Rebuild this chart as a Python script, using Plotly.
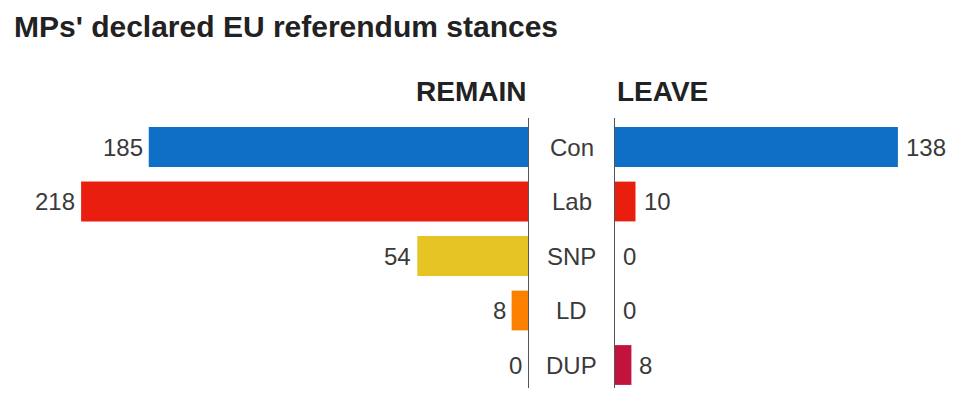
import plotly.graph_objects as go

parties = ["Con", "Lab", "SNP", "LD", "DUP"]
remain = [185, 218, 54, 8, 0]
leave = [138, 10, 0, 0, 8]
colors = ["#0f6fc6", "#e91e0e", "#e6c425", "#fb8000", "#c2123e"]

W, H = 978, 397
OFF = 8  # page body margin offset
idx = list(range(len(parties)))
FONT = "Liberation Sans, Arial, sans-serif"
VAL_FONT = dict(size=24, color="#3a3a3a", family=FONT)

fig = go.Figure()
fig.add_trace(go.Bar(
    x=remain, y=idx, orientation="h", marker=dict(color=colors, line=dict(width=0)),
    width=0.73, xaxis="x", yaxis="y", hoverinfo="skip"))
fig.add_trace(go.Bar(
    x=leave, y=idx, orientation="h", marker=dict(color=colors, line=dict(width=0)),
    width=0.73, xaxis="x2", yaxis="y2", hoverinfo="skip"))

px_per = 2.05
left_edge, right_edge = 528 - OFF, 615 - OFF
ytop, ybot = 118 - OFF, 388 - OFF
pitch, c0 = 54.5, 147 - OFF
yr = [(ybot - c0) / pitch, (ytop - c0) / pitch]
ydom = [1 - ybot / H, 1 - ytop / H]

fig.update_layout(
    width=W, height=H, margin=dict(l=0, r=0, t=0, b=0),
    paper_bgcolor="white", plot_bgcolor="white", showlegend=False,
    font=dict(family=FONT, color="#3a3a3a"),
    xaxis=dict(domain=[0, left_edge / W], range=[left_edge / px_per, 0],
               showgrid=False, zeroline=False, showticklabels=False, showline=False),
    xaxis2=dict(domain=[right_edge / W, 1], range=[0, (W - right_edge) / px_per],
                showgrid=False, zeroline=False, showticklabels=False, showline=False),
    yaxis=dict(domain=ydom, range=yr, anchor="x", side="right", showline=True,
               linecolor="#555555", linewidth=1, showgrid=False, zeroline=False,
               showticklabels=False, ticks=""),
    yaxis2=dict(domain=ydom, range=yr, anchor="x2", side="left", showline=True,
                linecolor="#555555", linewidth=1, showgrid=False, zeroline=False,
                showticklabels=False, ticks=""),
    bargap=0.27,
)

annotations = [
    dict(text="<b>MPs' declared EU referendum stances</b>", x=(12 - OFF) / W, y=1 - 19 / H,
         xref="paper", yref="paper", xanchor="left", yanchor="middle", showarrow=False,
         font=dict(size=30, color="#222222")),
    dict(text="<b>REMAIN</b>", x=left_edge / W, y=1 - (91 - OFF) / H, xref="paper", yref="paper",
         xanchor="right", yanchor="middle", showarrow=False, font=dict(size=28, color="#222222")),
    dict(text="<b>LEAVE</b>", x=right_edge / W, y=1 - (91 - OFF) / H, xref="paper", yref="paper",
         xanchor="left", yanchor="middle", showarrow=False, font=dict(size=28, color="#222222")),
]
for i, p in enumerate(parties):
    annotations.append(dict(text=p, x=(left_edge + right_edge) / 2 / W, y=i, xref="paper",
                            yref="y", xanchor="center", yanchor="middle", showarrow=False,
                            font=dict(size=24, color="#3a3a3a")))
# value labels at the bar ends
for i, v in enumerate(remain):
    annotations.append(dict(text=str(v), x=v, y=i, xref="x", yref="y", xanchor="right",
                            yanchor="middle", xshift=-4, showarrow=False, font=VAL_FONT))
for i, v in enumerate(leave):
    annotations.append(dict(text=str(v), x=v, y=i, xref="x2", yref="y2", xanchor="left",
                            yanchor="middle", xshift=6, showarrow=False, font=VAL_FONT))
fig.update_layout(annotations=annotations)

fig.write_html("out.html")
